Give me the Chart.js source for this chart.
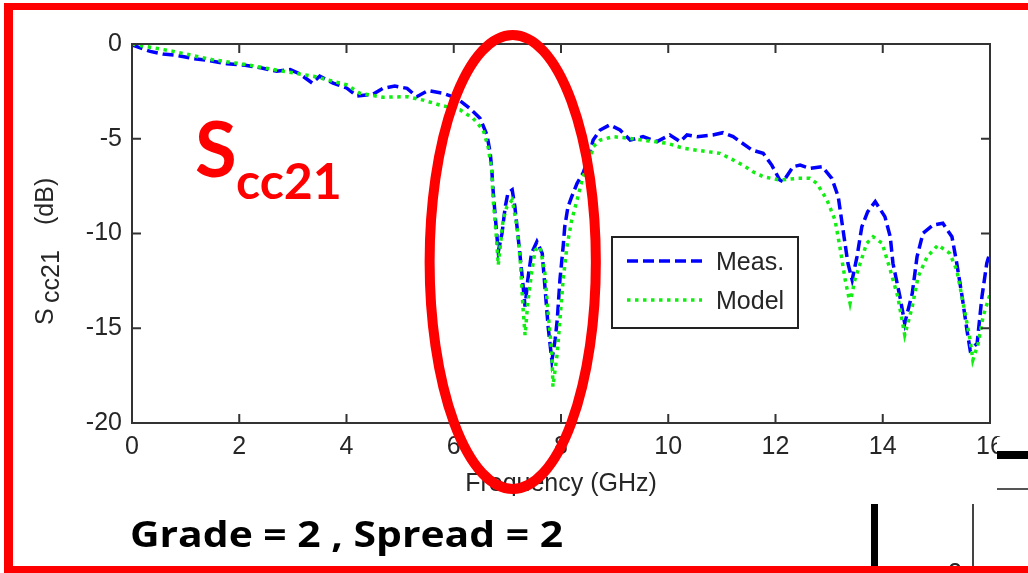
<!DOCTYPE html>
<html><head><meta charset="utf-8">
<script src="https://cdn.jsdelivr.net/npm/chart.js@4.4.1/dist/chart.umd.min.js"></script>
<style>html,body{margin:0;padding:0;background:#fff;overflow:hidden}#wrap{width:1028px;height:573px;position:relative}</style>
</head><body><div id="wrap"><canvas id="c" width="1028" height="573"></canvas></div>
<script>
// ---- data ----
const freqMeas = [0.00,0.34,0.58,0.84,1.14,1.45,1.77,2.11,2.42,2.70,2.95,3.13,3.36,3.50,3.75,4.00,4.20,4.50,4.68,4.90,5.13,5.31,5.52,5.80,6.06,6.30,6.49,6.62,6.68,6.71,6.73,6.79,6.83,6.90,6.96,7.01,7.09,7.14,7.20,7.27,7.33,7.38,7.45,7.55,7.65,7.70,7.76,7.83,7.89,7.93,7.98,8.04,8.07,8.13,8.20,8.30,8.41,8.50,8.60,8.73,8.91,9.10,9.29,9.53,9.79,10.03,10.22,10.35,10.54,10.83,11.02,11.21,11.34,11.56,11.77,11.93,12.08,12.14,12.33,12.46,12.64,12.87,13.05,13.17,13.26,13.35,13.43,13.52,13.61,13.72,13.86,14.04,14.14,14.19,14.32,14.41,14.55,14.64,14.75,14.94,15.12,15.29,15.38,15.48,15.57,15.63,15.76,15.85,15.94,16.00];
const dbMeas = [-0.05,-0.39,-0.53,-0.60,-0.77,-0.88,-1.04,-1.12,-1.27,-1.44,-1.35,-1.58,-2.06,-1.70,-2.06,-2.32,-2.75,-2.64,-2.34,-2.22,-2.34,-2.78,-2.46,-2.60,-2.87,-3.40,-3.92,-4.80,-5.75,-6.65,-7.60,-9.64,-10.96,-9.99,-8.59,-7.87,-7.70,-8.59,-10.17,-12.10,-13.86,-12.45,-11.05,-10.43,-11.05,-12.80,-14.92,-16.70,-15.62,-14.56,-12.45,-10.70,-9.64,-8.59,-8.06,-7.35,-6.82,-6.12,-5.07,-4.54,-4.27,-4.54,-5.07,-4.89,-5.15,-4.80,-5.15,-4.80,-4.89,-4.80,-4.68,-4.89,-5.15,-5.59,-5.77,-6.39,-7.18,-7.27,-6.47,-6.39,-6.56,-6.47,-7.09,-8.06,-9.82,-11.57,-12.45,-11.22,-9.64,-8.85,-8.32,-9.11,-10.17,-11.57,-13.33,-14.74,-13.16,-11.22,-9.99,-9.55,-9.46,-10.17,-11.57,-13.33,-15.09,-16.15,-15.80,-13.33,-11.57,-11.00];
const freqModel = [0.00,0.77,1.50,2.14,2.76,3.38,4.00,4.25,4.68,5.13,5.43,5.74,6.12,6.36,6.55,6.64,6.71,6.73,6.79,6.83,6.92,6.99,7.09,7.18,7.24,7.29,7.33,7.38,7.45,7.52,7.61,7.70,7.76,7.83,7.85,7.93,7.98,8.04,8.11,8.20,8.30,8.41,8.54,8.60,8.73,8.97,9.29,9.60,9.98,10.28,10.59,10.97,11.15,11.39,11.58,11.77,12.08,12.40,12.64,12.77,12.96,13.11,13.20,13.30,13.39,13.48,13.58,13.70,13.82,13.99,14.14,14.28,14.41,14.55,14.66,14.83,15.03,15.25,15.38,15.50,15.63,15.68,15.78,15.87,16.00];
const dbModel = [0.00,-0.39,-0.83,-1.09,-1.41,-1.70,-2.15,-2.60,-2.81,-2.78,-2.96,-3.22,-3.48,-3.92,-4.54,-5.42,-6.65,-8.06,-10.00,-11.66,-9.29,-8.59,-8.23,-9.64,-11.40,-13.86,-15.36,-13.68,-12.10,-10.87,-10.70,-12.10,-14.21,-16.32,-18.08,-16.32,-14.56,-12.45,-10.70,-9.29,-8.23,-7.00,-6.12,-5.42,-5.07,-4.89,-4.98,-5.10,-5.24,-5.50,-5.63,-5.77,-6.03,-6.39,-6.74,-7.00,-7.18,-7.09,-7.09,-7.35,-8.23,-9.29,-10.70,-12.45,-13.68,-12.45,-11.57,-10.52,-10.17,-10.52,-11.93,-13.33,-15.36,-13.86,-12.28,-11.22,-10.61,-11.05,-11.93,-13.68,-15.62,-16.68,-15.80,-14.39,-13.20];
const xTicks = [0,2,4,6,8,10,12,14,16];
const yTicks = [0,-5,-10,-15,-20];
const seriesNames = ['Meas.','Model'];
const xTitle = 'Frequency (GHz)';
const yTitleParts = ['S','cc21','(dB)'];
const noteParts = ['S','cc21'];
const footerText = 'Grade = 2 , Spread = 2';
const ellipseData = {cx:7.1, cy:-11.5, rx:1.55, ry:11.98};

const FAM = "'Liberation Sans',Arial,sans-serif";
const FS = 25;
const TXT = '#262626';

const deco = {
  id:'deco',
  afterDraw(chart){
    const {ctx, chartArea:a, scales:{x,y}} = chart;
    ctx.save();
    // axes box and inward ticks
    ctx.strokeStyle='#333'; ctx.lineWidth=2; ctx.setLineDash([]);
    ctx.strokeRect(a.left, a.top, a.right-a.left, a.bottom-a.top);
    ctx.beginPath();
    xTicks.forEach(v=>{const p=x.getPixelForValue(v); ctx.moveTo(p,a.bottom); ctx.lineTo(p,a.bottom-9); ctx.moveTo(p,a.top); ctx.lineTo(p,a.top+9);});
    yTicks.forEach(v=>{const p=y.getPixelForValue(v); ctx.moveTo(a.left,p); ctx.lineTo(a.left+9,p); ctx.moveTo(a.right,p); ctx.lineTo(a.right-9,p);});
    ctx.stroke();
    // legend
    const lg={x:612,y:237,w:186,h:91};
    ctx.fillStyle='#fff'; ctx.fillRect(lg.x,lg.y,lg.w,lg.h);
    ctx.strokeStyle='#222'; ctx.lineWidth=2; ctx.strokeRect(lg.x,lg.y,lg.w,lg.h);
    chart.data.datasets.forEach((ds,i)=>{
      const yy=lg.y+24+i*39;
      ctx.beginPath(); ctx.setLineDash(ds.borderDash); ctx.strokeStyle=ds.borderColor; ctx.lineWidth=ds.borderWidth;
      ctx.moveTo(lg.x+15,yy); ctx.lineTo(lg.x+90,yy); ctx.stroke(); ctx.setLineDash([]);
      ctx.fillStyle=TXT; ctx.font=FS+'px '+FAM; ctx.textBaseline='middle'; ctx.textAlign='left';
      ctx.fillText(ds.label, lg.x+104, yy+2);
    });
    // y title with subscript
    ctx.save(); ctx.translate(53,325); ctx.rotate(-Math.PI/2);
    ctx.fillStyle=TXT; ctx.textBaseline='alphabetic'; ctx.textAlign='left';
    ctx.font=FS+'px '+FAM; ctx.fillText(yTitleParts[0],0,0);
    ctx.fillText(yTitleParts[1],22,6);
    ctx.fillText(yTitleParts[2],100,0);
    ctx.restore();
    // red ellipse annotation (data coords)
    const cx=x.getPixelForValue(ellipseData.cx), cy=y.getPixelForValue(ellipseData.cy);
    const rx=Math.abs(x.getPixelForValue(ellipseData.cx+ellipseData.rx)-cx);
    const ry=Math.abs(y.getPixelForValue(ellipseData.cy+ellipseData.ry)-cy);
    ctx.beginPath(); ctx.ellipse(cx,cy,rx,ry,0,0,Math.PI*2); ctx.strokeStyle='#ff0000'; ctx.lineWidth=10; ctx.stroke();
    // red S_cc21 note
    ctx.fillStyle='#ff0000'; ctx.textAlign='left'; ctx.textBaseline='alphabetic';
    ctx.font="bold 76px Lato,'Open Sans',sans-serif"; ctx.fillText(noteParts[0],195,177);
    ctx.font="bold 50px Lato,'Open Sans',sans-serif"; ctx.fillText(noteParts[1],236,199);
    // footer text
    ctx.fillStyle='#000'; ctx.font="bold 36px 'Open Sans',Lato,sans-serif";
    const fw=ctx.measureText(footerText).width; const target=433;
    ctx.save(); ctx.translate(130,547); ctx.scale(target/fw,1); ctx.fillText(footerText,0,0); ctx.restore();
    // overlapping fragment at bottom right
    ctx.fillStyle='#fff'; ctx.fillRect(997,437,31,130);
    ctx.fillStyle='#000'; ctx.fillRect(997,451,31,8);
    ctx.fillStyle='#555'; ctx.fillRect(997,488,31,2);
    ctx.fillStyle='#000'; ctx.fillRect(871,504,7,66);
    ctx.fillStyle='#444'; ctx.fillRect(972,504,2,66);
    ctx.fillStyle=TXT; ctx.font=FS+'px '+FAM; ctx.fillText('2',948,581);
    // red frame
    ctx.fillStyle='#ff0000';
    ctx.fillRect(4,3,1024,7); ctx.fillRect(4,3,9,570); ctx.fillRect(4,566,1024,7);
    ctx.restore();
  }
};

const mk=(fx,fy)=>fx.map((f,i)=>({x:f,y:fy[i]}));
new Chart(document.getElementById('c'),{
  type:'line',
  data:{datasets:[
    {label:seriesNames[0],data:mk(freqMeas,dbMeas),borderColor:'#0000ff',borderWidth:3.5,borderDash:[11,5],pointRadius:0,fill:false,tension:0,order:2},
    {label:seriesNames[1],data:mk(freqModel,dbModel),borderColor:'#11ee11',borderWidth:3.5,borderDash:[3.5,4.5],pointRadius:0,fill:false,tension:0,order:1}
  ]},
  options:{
    responsive:false,animation:false,devicePixelRatio:1,
    layout:{padding:{left:0,right:38,top:44,bottom:0}},
    plugins:{legend:{display:false},tooltip:{enabled:false}},
    scales:{
      x:{type:'linear',min:0,max:16,
        afterBuildTicks:s=>{s.ticks=xTicks.map(v=>({value:v}));},
        afterFit:s=>{s.height=150;},
        grid:{display:false,drawTicks:false},border:{display:false},
        ticks:{font:{family:FAM,size:FS},color:TXT,padding:9,maxRotation:0,autoSkip:false},
        title:{display:true,text:xTitle,font:{family:FAM,size:FS},color:TXT,padding:{top:0,bottom:74}}},
      y:{type:'linear',min:-20,max:0,
        afterBuildTicks:s=>{s.ticks=yTicks.map(v=>({value:v}));},
        afterFit:s=>{s.width=132;},
        grid:{display:false,drawTicks:false},border:{display:false},
        ticks:{font:{family:FAM,size:FS},color:TXT,padding:10,autoSkip:false}}
    }
  },
  plugins:[deco]
});
</script></body></html>
